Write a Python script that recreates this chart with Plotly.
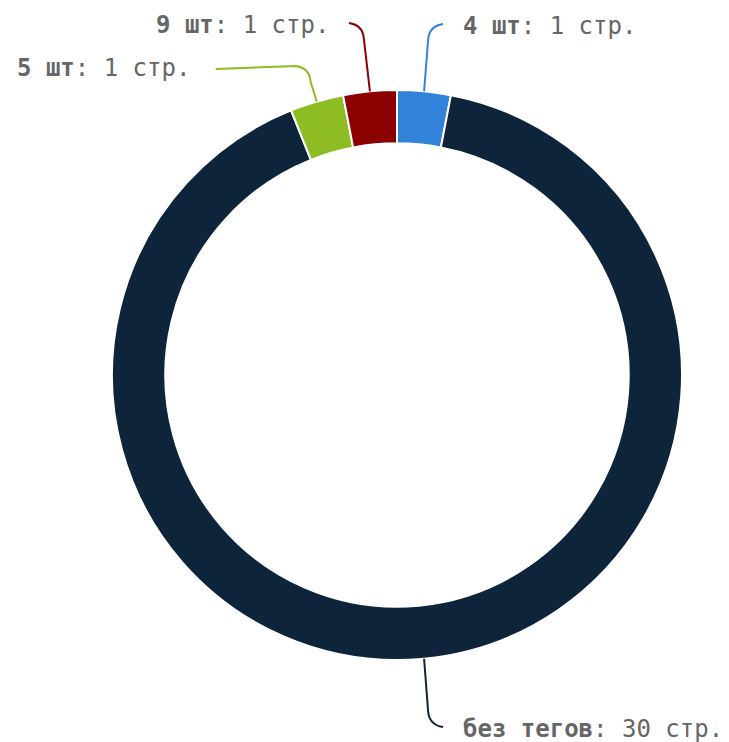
import math
import plotly.graph_objects as go

# Data
labels = ["4 шт", "без тегов", "5 шт", "9 шт"]
values = [1, 30, 1, 1]
unit = "стр."
colors = ["#3182d9", "#0e243b", "#8dbc23", "#8b0000"]

OFF = 8  # default page body margin
W, H = 729 - OFF, 742 - OFF
CX, CY, R = 397 - OFF, 375 - OFF, 285  # pixel geometry of the donut
HOLE = 0.813

fig = go.Figure(go.Pie(
    labels=labels, values=values, sort=False, direction="clockwise", rotation=0,
    hole=HOLE, textinfo="none", hoverinfo="label+value",
    marker=dict(colors=colors, line=dict(color="#ffffff", width=2)),
    domain=dict(x=[(CX - R) / W, (CX + R) / W],
                y=[(H - CY - R) / H, (H - CY + R) / H]),
    showlegend=False,
))

def px(x, y):
    return x / W, 1 - y / H

# label placement: label-y px and side per slice
label_y = [24 - OFF, 727 - OFF, 66 - OFF, 23 - OFF]
side = [1, 1, -1, -1]
total = sum(values)
cum = 0
shapes, annotations = [], []
for i, v in enumerate(values):
    mid = (cum + v / 2) / total * 2 * math.pi
    cum += v
    x0 = CX + R * math.sin(mid)
    y0 = CY - R * math.cos(mid)
    ly = label_y[i]
    s = side[i]
    down = 1 if ly > y0 else -1
    x1 = x0 + (4 if s > 0 else -6)
    y1 = ly - down * 16
    x2, y2 = x1 + s * 15, ly
    pts = [px(x0, y0), px(x1, y1), px(x1 + s * 1, ly - down * 2), px(x2, y2)]
    path = "M {0[0]},{0[1]} L {1[0]},{1[1]} Q {2[0]},{2[1]} {3[0]},{3[1]}".format(*pts)
    if i == 2:
        xe = x2 - 80
        pe = px(xe, ly + 3)
        path += " L {0},{1}".format(*pe)
        tx = xe - 24
    else:
        tx = x2 + s * 18
    shapes.append(dict(type="path", path=path, xref="paper", yref="paper",
                       line=dict(color=colors[i], width=2)))
    tpx, tpy = px(tx, ly + 2)
    annotations.append(dict(
        x=tpx, y=tpy, xref="paper", yref="paper", showarrow=False,
        xanchor="left" if s > 0 else "right", yanchor="middle",
        text="<b>{}</b>: {} {}".format(labels[i], v, unit),
        font=dict(family="DejaVu Sans Mono", size=24, color="#666666"),
    ))

fig.update_layout(
    width=W, height=H, margin=dict(l=0, r=0, t=0, b=0),
    paper_bgcolor="#ffffff", plot_bgcolor="#ffffff",
    shapes=shapes, annotations=annotations,
)
fig.write_html("out.html")
